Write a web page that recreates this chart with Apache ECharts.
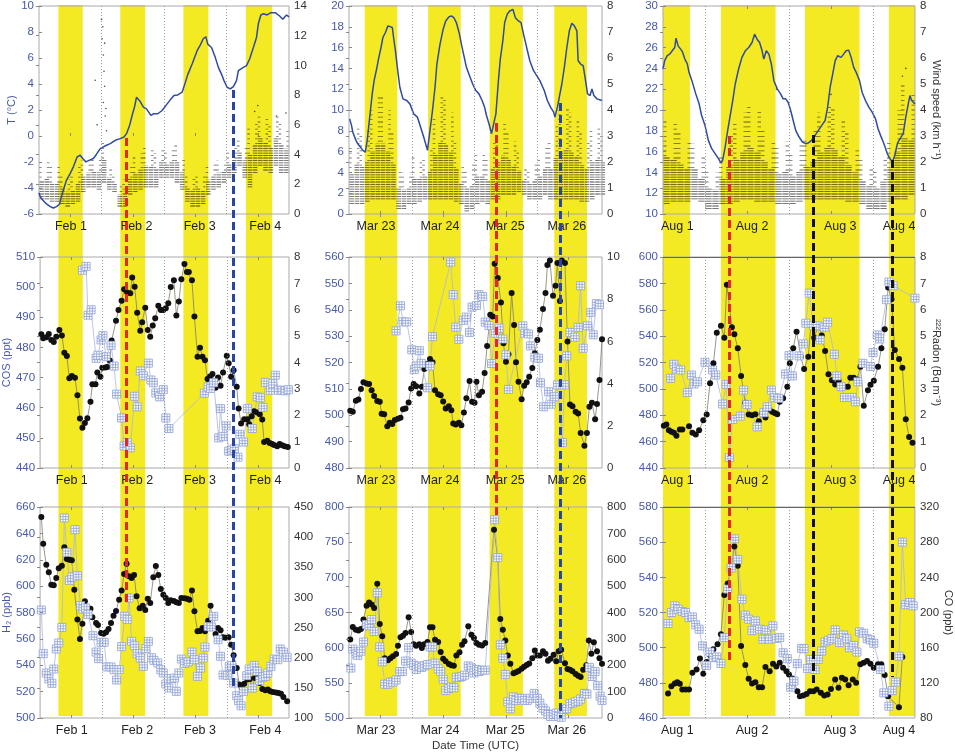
<!DOCTYPE html>
<html>
<head>
<meta charset="utf-8">
<script src="https://cdn.jsdelivr.net/npm/echarts@6/dist/echarts.min.js"></script>
<style>
html, body { margin: 0; padding: 0; background: #fff; }
#chart { width: 955px; height: 753px; }
</style>
</head>
<body>
<div id="chart"></div>
<script>
var chart = echarts.init(document.getElementById('chart'));

// time axis: days since the left edge of each column
var febLabels = ['Feb 1', 'Feb 2', 'Feb 3', 'Feb 4'];
var febLabelPos = [0.51, 1.56, 2.57, 3.62];
var marLabels = ['Mar 23', 'Mar 24', 'Mar 25', 'Mar 26'];
var marLabelPos = [0.43, 1.45, 2.49, 3.47];
var augLabels = ['Aug 1', 'Aug 2', 'Aug 3', 'Aug 4'];
var augLabelPos = [0.17, 1.06, 2.11, 2.81];

// tick marks (noon) and dotted lines (midnight)
var febTicks = [0.5, 1.5, 2.5, 3.5];
var marTicks = [0.5, 1.5, 2.5, 3.5];
var augTicks = [1, 2];
var febMidnights = [1, 2, 3];
var marMidnights = [1, 2, 3];
var augMidnights = [0.5, 1.5, 2.5];

// daylight periods
var febBands = [[0.31, 0.70], [1.30, 1.70], [2.31, 2.71], [3.31, 3.73]];
var marBands = [[0.25, 0.77], [1.26, 1.78], [2.24, 2.77], [3.27, 3.79]];
var augBands = [[0, 0.32], [0.69, 1.34], [1.69, 2.34], [2.69, 3.0]];

// events: [time, top px, bottom px]
var febEvents = [[1.39, 138, 605], [3.11, 90, 688]];
var marEvents = [[2.34, 123, 517], [3.37, 103, 718]];
var augEvents = [[0.79, 136, 663], [1.79, 135, 684], [2.73, 160, 677]];

// temperature (degC)
var tempFeb = [[0,-4.36],[0.02,-4.67],[0.06,-4.92],[0.12,-5.23],[0.18,-5.43],[0.23,-5.54],[0.28,-5.43],[0.33,-5.23],[0.35,-4.8],[0.39,-4.16],[0.44,-3.39],[0.5,-2.88],[0.55,-2.37],[0.61,-1.61],[0.66,-1.48],[0.7,-1.73],[0.75,-1.99],[0.81,-1.86],[0.87,-1.73],[0.92,-1.4],[0.98,-0.97],[1.03,-0.84],[1.08,-0.71],[1.14,-0.59],[1.22,-0.33],[1.3,-0.2],[1.36,-0.08],[1.4,0.18],[1.45,0.82],[1.49,1.58],[1.53,2.27],[1.56,2.98],[1.59,3.11],[1.62,2.65],[1.67,2.22],[1.72,2.09],[1.79,1.58],[1.83,1.71],[1.9,1.71],[1.97,1.96],[2.05,2.47],[2.1,2.78],[2.16,3.11],[2.22,3.16],[2.29,3.37],[2.32,3.8],[2.38,4.72],[2.45,5.54],[2.53,6.56],[2.58,6.99],[2.63,7.5],[2.67,7.63],[2.7,7.07],[2.76,6.81],[2.82,6.05],[2.87,5.28],[2.93,4.64],[2.96,4.26],[3.01,3.75],[3.06,3.62],[3.11,3.8],[3.16,4.26],[3.19,5.03],[3.27,5.28],[3.32,5.41],[3.37,5.92],[3.43,6.81],[3.48,7.58],[3.51,8.65],[3.55,9.31],[3.59,9.41],[3.65,9.31],[3.71,9.49],[3.78,9.49],[3.85,9.23],[3.9,8.98],[3.96,9.31],[4,9.16]];
var tempMar = [[0.01,9.15],[0.04,8.52],[0.06,7.88],[0.11,7.08],[0.14,6.76],[0.18,6.44],[0.22,6.12],[0.26,5.96],[0.29,7.08],[0.33,9.31],[0.37,11.55],[0.4,12.82],[0.44,13.94],[0.47,14.9],[0.51,16.01],[0.54,16.97],[0.58,17.45],[0.62,18.09],[0.65,18.25],[0.69,17.93],[0.71,16.97],[0.74,15.69],[0.77,14.1],[0.81,12.19],[0.86,11.07],[0.92,10.91],[0.97,10.59],[1.03,9.63],[1.09,9.31],[1.14,8.36],[1.19,7.4],[1.25,6.12],[1.29,8.04],[1.33,9.95],[1.37,12.19],[1.4,14.42],[1.45,16.33],[1.5,17.77],[1.54,18.56],[1.59,18.95],[1.63,19.04],[1.67,18.88],[1.71,18.41],[1.76,17.29],[1.79,16.33],[1.83,15.22],[1.87,14.1],[1.92,13.3],[1.97,12.5],[2.02,11.87],[2.07,11.55],[2.12,10.91],[2.16,10.27],[2.19,9.47],[2.23,8.68],[2.27,7.72],[2.3,7.88],[2.34,9.63],[2.38,12.82],[2.41,14.9],[2.45,16.65],[2.48,18.41],[2.52,19.2],[2.56,19.52],[2.61,19.68],[2.65,18.88],[2.7,18.56],[2.74,18.41],[2.78,17.29],[2.83,16.01],[2.88,14.74],[2.94,13.78],[2.99,13.3],[3.04,12.82],[3.11,11.87],[3.16,10.91],[3.21,10.27],[3.26,9.79],[3.28,9.31],[3.32,10.27],[3.35,11.23],[3.39,12.5],[3.43,14.1],[3.47,16.01],[3.51,17.61],[3.55,18.34],[3.59,18.09],[3.63,17.61],[3.65,14.74],[3.69,14.42],[3.73,14.26],[3.76,13.14],[3.8,11.55],[3.84,11.39],[3.87,12.03],[3.9,11.39],[3.95,11.07],[4.03,10.91]];
var tempAug = [[0,23.94],[0.02,24.74],[0.05,25.22],[0.08,25.37],[0.11,25.69],[0.14,26.01],[0.155,26.91],[0.18,26.17],[0.21,25.85],[0.23,25.63],[0.26,24.9],[0.29,24.42],[0.31,23.62],[0.35,22.66],[0.39,21.55],[0.43,20.59],[0.46,19.47],[0.5,18.52],[0.54,17.08],[0.58,16.28],[0.62,15.81],[0.66,15.33],[0.69,14.91],[0.71,15.17],[0.74,16.44],[0.77,18.04],[0.8,19.47],[0.83,20.91],[0.86,22.5],[0.9,23.94],[0.94,25.06],[0.98,25.69],[1.02,26.01],[1.06,26.49],[1.09,27.29],[1.12,26.81],[1.15,26.49],[1.18,25.69],[1.2,24.9],[1.23,25.69],[1.26,25.37],[1.29,24.42],[1.32,22.82],[1.36,22.03],[1.4,21.55],[1.43,21.07],[1.46,21.07],[1.49,20.75],[1.52,19.95],[1.55,18.99],[1.58,18.04],[1.62,17.4],[1.66,16.92],[1.7,16.76],[1.73,16.83],[1.77,17.08],[1.81,17.56],[1.85,18.04],[1.89,18.52],[1.93,18.99],[1.96,20.27],[1.99,22.19],[2.02,23.46],[2.05,24.74],[2.08,25.22],[2.12,25.06],[2.15,25.37],[2.18,25.69],[2.21,25.76],[2.24,25.06],[2.27,24.1],[2.3,23.62],[2.34,22.82],[2.37,21.71],[2.41,20.91],[2.45,20.27],[2.49,19.79],[2.53,19.15],[2.56,18.2],[2.59,17.56],[2.63,16.76],[2.67,15.81],[2.7,15.33],[2.73,15.01],[2.76,15.65],[2.79,16.76],[2.81,17.08],[2.83,17.24],[2.86,17.72],[2.89,19.31],[2.92,20.59],[2.94,21.39],[2.96,20.91],[3.0,20.59]];

// wind speed (km/h): spread of the 1-min values in 2-hour bins
var windLoFeb = [0.94,0.9,0.7,0.7,0.6,0.5,0.6,0.7,1.4,1.8,1.8,1.6,2.0,1.6,1.4,0.5,0.5,1.2,1.4,1.6,1.8,1.8,1.8,2.3,2.3,2.3,2.0,1.6,0.7,0.5,0.5,0.6,1.2,1.6,1.8,2.0,2.3,2.7,3.2,2.3,1.8,2.7,3.2,2.9,2.7,3.2,2.7,2.7];
var windHiFeb = [3.4,3.6,3.2,3.2,2.7,2.3,2.5,3.2,3.6,3.6,3.8,3.8,5.0,3.2,2.7,2.0,2.3,3.4,3.8,4.1,4.5,4.3,4.1,4.5,4.3,4.5,4.7,3.8,2.7,2.5,2.7,2.5,3.2,3.4,3.6,3.6,4.3,4.5,5.0,4.7,5.8,6.3,6.7,6.5,6.0,6.7,6.3,5.8];
var windOutFeb = [[0.9,9.0],[0.93,6.0],[1.0,13.1],[1.01,11.8],[1.02,12.6],[1.03,10.7],[1.03,7.5],[1.04,9.6],[1.05,8.6],[1.05,11.5],[1.06,6.6],[1.07,7.1],[1.08,5.6],[3.45,6.9],[3.5,7.3],[3.8,6.6],[3.95,6.8]];
var windLoMar = [0.3,0.3,0.3,0.4,0.5,0.5,0.5,0.5,0.5,0.15,0.15,0.3,0.3,0.4,0.5,0.5,0.5,0.5,0.5,0.5,0.4,0.3,0.1,0.15,0.3,0.4,0.3,0.5,0.5,0.7,0.7,0.7,0.8,0.7,0.5,0.5,0.5,0.7,0.5,0.5,0.5,0.5,0.5,0.5,0.4,0.4,0.5,0.7,0.7];
var windHiMar = [2.6,3.3,3.1,3.3,4.0,4.5,4.5,4.0,3.1,1.7,1.6,1.6,2.2,2.1,2.2,2.6,3.7,4.6,4.4,3.9,2.8,1.9,1.7,1.9,2.4,2.3,2.1,2.8,3.3,3.5,3.2,2.8,2.4,1.8,1.7,1.9,2.2,2.6,2.8,3.5,4.0,4.1,3.9,3.6,3.1,2.8,3.3,3.3,3.1];
var windOutMar = [];
var windLoAug = [0.3,0.4,0.4,0.4,0.5,0.4,0.2,0.15,0.3,0.35,0.4,0.5,0.5,0.4,0.4,0.4,0.3,0.3,0.3,0.4,0.5,0.5,0.5,0.5,0.5,0.5,0.4,0.4,0.3,0.2,0.15,0.2,0.4,0.5,0.5,0.7];
var windHiAug = [3.7,3.5,3.2,2.8,2.7,2.2,1.7,1.6,2.3,3.0,3.5,3.9,4.2,4.0,3.3,2.8,2.6,2.8,2.4,2.7,2.9,3.3,3.9,4.2,4.1,3.6,3.1,2.6,2.1,1.8,1.7,2.1,2.8,4.0,5.0,4.6];
var windOutAug = [[1.35,4.8],[2.0,4.6],[2.85,5.3],[2.89,5.6]];

// COS (ppt)
var cosFeb = [[0.68,505.6],[0.74,506.9],[0.77,490.7],[0.82,492.5],[0.9,476.4],[0.93,477.4],[0.98,482.5],[1.01,483.9],[1.06,476.9],[1.14,480.7],[1.19,473.8],[1.23,464.5],[1.31,456.6],[1.35,447.3],[1.4,448.4],[1.45,446.7],[1.52,463.8],[1.56,460.3],[1.61,472.2],[1.66,470.6],[1.74,474.8],[1.78,469.2],[1.82,468.3],[1.86,464.9],[1.92,463.6],[1.98,466.0],[2.02,456.6],[2.07,453.1],[2.64,464.8],[2.7,466.9],[2.74,466.4],[2.79,468.3],[2.87,450.0],[2.9,459.7],[2.94,450.5],[2.99,454.0],[3.03,445.6],[3.08,445.9],[3.12,446.4],[3.18,443.6],[3.21,451.2],[3.27,448.6],[3.33,459.7],[3.41,453.1],[3.49,463.6],[3.54,463.3],[3.58,460.1],[3.62,468.4],[3.7,465.8],[3.74,468.0],[3.78,470.8],[3.83,465.8],[3.89,465.8],[3.94,465.6],[3.99,466.0]];
var cosMar = [[0.75,532.0],[0.82,541.5],[0.86,535.4],[0.92,535.4],[1.0,524.8],[1.04,517.3],[1.07,518.7],[1.12,524.5],[1.15,519.7],[1.25,510.4],[1.29,518.7],[1.33,529.8],[1.62,558.1],[1.66,545.7],[1.7,533.4],[1.75,528.8],[1.82,536.0],[1.87,537.2],[1.92,531.4],[1.96,541.0],[2.03,541.6],[2.07,545.7],[2.13,545.0],[2.17,535.3],[2.23,534.0],[2.27,519.6],[2.33,531.1],[2.39,533.0],[2.45,528.9],[2.5,522.9],[2.54,509.8],[2.77,533.9],[2.8,531.1],[2.86,530.8],[2.89,526.3],[2.96,522.0],[3.02,521.6],[3.05,512.3],[3.1,503.2],[3.18,508.9],[3.22,504.2],[3.27,507.0],[3.32,511.5],[3.4,489.7],[3.43,511.5],[3.47,522.5],[3.52,531.4],[3.6,529.6],[3.65,533.3],[3.69,549.1],[3.73,525.4],[3.8,533.9],[3.85,539.0],[3.89,530.5],[3.94,542.3],[3.99,541.9]];
var cosAug = [[0.09,508.0],[0.13,518.6],[0.16,515.1],[0.21,514.3],[0.29,497.3],[0.34,510.5],[0.37,503.7],[0.41,505.4],[0.5,520.2],[0.59,514.3],[0.63,510.5],[0.71,488.5],[0.75,503.4],[0.79,447.9],[0.83,476.8],[0.92,479.3],[0.96,499.1],[1.0,488.2],[1.12,471.2],[1.2,481.9],[1.24,486.4],[1.29,499.1],[1.33,493.3],[1.38,492.8],[1.46,511.3],[1.5,525.2],[1.54,509.8],[1.62,525.0],[1.67,534.1],[1.7,549.8],[1.74,572.6],[1.79,547.8],[1.84,547.8],[1.87,537.1],[1.92,546.8],[1.96,550.6],[2.04,526.2],[2.07,509.8],[2.12,501.6],[2.16,493.5],[2.25,493.5],[2.29,490.2],[2.32,505.4],[2.38,519.4],[2.47,516.9],[2.5,527.5],[2.55,540.9],[2.58,537.9],[2.66,567.6],[2.69,581.0],[2.74,578.2],[3.0,568.8]];

// 222Rn (Bq m-3)
var radonFeb = [[0.02,5.07],[0.05,4.92],[0.1,4.96],[0.14,5.08],[0.18,4.85],[0.22,4.78],[0.26,4.98],[0.31,5.23],[0.35,5.02],[0.39,4.37],[0.43,4.25],[0.47,3.4],[0.51,3.49],[0.56,3.42],[0.6,2.76],[0.64,1.88],[0.68,1.53],[0.72,1.71],[0.76,1.89],[0.81,2.51],[0.84,3.18],[0.89,3.18],[0.92,3.62],[0.97,3.46],[1.0,3.8],[1.05,3.81],[1.08,3.83],[1.12,4.08],[1.15,4.83],[1.22,5.58],[1.26,5.99],[1.31,6.34],[1.35,6.78],[1.4,6.65],[1.45,6.63],[1.48,7.22],[1.52,6.87],[1.56,5.89],[1.61,5.2],[1.64,5.53],[1.69,6.08],[1.73,5.23],[1.77,4.98],[1.81,5.4],[1.85,5.68],[1.9,6.15],[1.94,5.99],[1.98,5.99],[2.02,6.06],[2.06,6.25],[2.1,6.86],[2.15,7.12],[2.19,5.78],[2.23,6.31],[2.27,7.16],[2.32,7.73],[2.36,7.43],[2.39,7.43],[2.44,7.12],[2.48,5.74],[2.53,4.22],[2.57,4.56],[2.61,4.22],[2.65,4.09],[2.69,3.37],[2.73,3.47],[2.77,3.56],[2.82,3.04],[2.86,3.43],[2.9,3.12],[2.94,3.62],[3.0,4.26],[3.03,3.97],[3.07,3.46],[3.11,3.71],[3.16,3.08],[3.19,2.26],[3.23,1.69],[3.28,1.85],[3.33,1.85],[3.36,1.66],[3.4,1.96],[3.44,2.15],[3.49,2.1],[3.53,2.04],[3.57,1.84],[3.6,0.99],[3.65,1.03],[3.69,0.95],[3.73,0.91],[3.76,0.87],[3.81,0.82],[3.85,0.91],[3.89,0.86],[3.93,0.82],[3.98,0.8]];
var radonMar = [[0.02,2.71],[0.06,2.66],[0.11,3.19],[0.15,3.25],[0.19,3.74],[0.23,4.06],[0.28,4.01],[0.32,3.98],[0.36,3.69],[0.4,3.41],[0.45,3.17],[0.49,3.14],[0.52,2.57],[0.56,2.55],[0.61,1.98],[0.65,2.14],[0.69,2.09],[0.73,2.27],[0.78,2.33],[0.82,2.38],[0.86,2.79],[0.9,2.82],[0.95,3.11],[0.99,3.77],[1.03,3.98],[1.07,3.88],[1.12,3.53],[1.16,3.85],[1.2,4.69],[1.25,4.94],[1.29,5.17],[1.33,5.01],[1.37,3.69],[1.42,3.5],[1.46,3.45],[1.5,3.15],[1.54,2.82],[1.59,2.93],[1.63,2.74],[1.66,2.11],[1.7,2.06],[1.75,2.14],[1.79,2.03],[1.83,2.63],[1.87,3.3],[1.92,4.12],[1.96,3.14],[2.0,3.09],[2.03,4.09],[2.07,3.45],[2.12,3.61],[2.16,4.5],[2.2,5.78],[2.25,7.26],[2.29,7.18],[2.32,9.68],[2.37,9.0],[2.42,7.84],[2.46,5.91],[2.5,5.04],[2.54,5.39],[2.59,8.29],[2.63,6.78],[2.66,5.01],[2.7,4.09],[2.75,3.26],[2.79,3.9],[2.83,4.06],[2.87,4.33],[2.92,4.74],[2.96,5.44],[3.0,6.07],[3.04,6.55],[3.09,7.54],[3.13,8.29],[3.16,9.62],[3.2,9.84],[3.25,8.16],[3.29,8.64],[3.32,9.71],[3.36,7.92],[3.39,9.84],[3.44,9.71],[3.48,5.99],[3.52,3.01],[3.56,2.93],[3.61,2.66],[3.65,2.58],[3.69,1.66],[3.75,1.06],[3.79,1.66],[3.83,2.9],[3.87,3.09],[3.92,2.31],[3.95,3.03],[3.99,4.17],[4.03,6.1]];
var radonAug = [[0.01,1.6],[0.04,1.65],[0.07,1.43],[0.1,1.37],[0.13,1.34],[0.16,1.22],[0.2,1.46],[0.23,1.46],[0.31,1.58],[0.35,1.34],[0.39,1.27],[0.43,1.43],[0.48,1.81],[0.52,2.03],[0.56,3.21],[0.6,3.97],[0.64,5.13],[0.69,5.39],[0.73,4.94],[0.76,6.95],[0.82,5.34],[0.85,5.07],[0.89,4.54],[0.93,3.49],[0.98,2.47],[1.02,2.03],[1.06,2.0],[1.1,2.04],[1.14,1.77],[1.18,2.07],[1.22,1.91],[1.26,2.22],[1.3,2.13],[1.33,2.09],[1.36,2.04],[1.39,2.51],[1.43,2.64],[1.48,3.08],[1.51,3.97],[1.55,4.54],[1.59,5.17],[1.64,4.22],[1.68,3.75],[1.73,4.22],[1.76,5.42],[1.8,4.94],[1.85,5.42],[1.89,5.02],[1.93,4.44],[1.97,3.55],[2.01,3.33],[2.05,3.17],[2.09,3.32],[2.13,3.11],[2.16,3.08],[2.2,3.08],[2.23,3.42],[2.27,3.42],[2.31,3.36],[2.35,3.84],[2.39,2.36],[2.44,2.95],[2.47,3.16],[2.51,3.31],[2.56,3.84],[2.6,4.54],[2.64,5.26],[2.68,6.84],[2.72,6.4],[2.76,4.47],[2.81,4.13],[2.85,3.8],[2.89,1.85],[2.93,1.18],[2.97,0.96]];

// H2 (ppb)
var h2Feb = [[0.02,581.9],[0.05,548.8],[0.1,534.1],[0.14,529.6],[0.19,526.3],[0.22,537.1],[0.26,552.3],[0.3,556.9],[0.35,568.7],[0.39,651.7],[0.43,625.6],[0.47,604.4],[0.51,606.9],[0.56,642.8],[0.6,607.9],[0.65,585.2],[0.69,582.6],[0.73,583.4],[0.77,578.6],[0.85,562.4],[0.9,550.0],[0.94,545.0],[0.98,557.4],[1.03,557.4],[1.07,538.7],[1.14,538.7],[1.19,536.6],[1.23,528.8],[1.27,536.6],[1.31,554.1],[1.36,577.1],[1.4,574.8],[1.43,591.0],[1.47,558.1],[1.52,554.8],[1.56,548.8],[1.61,545.5],[1.66,539.2],[1.7,552.6],[1.74,558.1],[1.79,545.7],[1.83,543.7],[1.89,541.7],[1.94,536.6],[1.98,534.1],[2.02,525.8],[2.07,522.7],[2.11,529.8],[2.16,530.3],[2.19,520.2],[2.23,534.1],[2.27,544.7],[2.32,541.4],[2.38,542.5],[2.44,550.0],[2.48,544.2],[2.53,531.6],[2.58,537.9],[2.62,545.5],[2.65,553.8],[2.7,569.3],[2.75,569.0],[2.79,577.1],[2.86,559.4],[2.9,546.8],[2.94,532.6],[3.01,532.3],[3.04,539.2],[3.08,539.7],[3.11,526.5],[3.16,516.9],[3.19,513.1],[3.23,509.3],[3.27,520.2],[3.32,532.1],[3.36,537.1],[3.41,522.7],[3.44,539.9],[3.49,535.4],[3.53,528.3],[3.58,531.1],[3.62,531.6],[3.66,534.1],[3.71,539.2],[3.76,544.7],[3.82,544.2],[3.86,552.3],[3.91,550.0],[3.97,546.0]];
var h2Mar = [[0.03,571],[0.06,598],[0.11,591],[0.14,589],[0.19,595],[0.23,608],[0.28,633],[0.32,631],[0.36,640],[0.4,623],[0.45,678],[0.49,601],[0.53,580],[0.57,548],[0.62,548],[0.66,551],[0.7,551],[0.75,554],[0.81,566],[0.85,566],[0.9,581],[0.95,600],[0.99,578],[1.03,575],[1.07,569],[1.12,574],[1.16,572],[1.2,574],[1.25,576],[1.29,601],[1.33,601],[1.37,578],[1.42,570],[1.46,566],[1.5,555],[1.54,539],[1.59,542],[1.63,544],[1.67,543],[1.71,558],[1.76,558],[1.8,559],[1.84,561],[1.9,574],[1.95,571],[1.99,564],[2.03,569],[2.07,566],[2.12,568],[2.17,568],[2.32,782],[2.37,728],[2.41,604],[2.45,585],[2.49,562],[2.53,523],[2.57,513],[2.62,530],[2.66,525],[2.71,528],[2.76,528],[2.8,525],[2.84,525],[2.89,528],[2.95,535],[3.0,528],[3.04,521],[3.09,514],[3.13,510],[3.17,505],[3.21,502],[3.26,505],[3.3,507],[3.34,502],[3.38,501],[3.43,512],[3.47,513],[3.52,520],[3.56,521],[3.61,523],[3.65,524],[3.69,527],[3.75,535],[3.79,534],[3.83,572],[3.87,559],[3.92,566],[3.96,546],[4.0,531],[4.03,525]];
var h2Aug = [[0.06,513.7],[0.1,520.0],[0.14,523.8],[0.18,521.9],[0.23,520.6],[0.27,520.0],[0.31,517.1],[0.35,517.5],[0.39,513.0],[0.43,510.5],[0.47,501.0],[0.52,489.9],[0.56,497.5],[0.6,494.3],[0.64,494.7],[0.69,491.0],[0.73,505.7],[0.77,533.3],[0.81,545.3],[0.85,561.9],[0.89,550.1],[0.94,527.6],[0.98,518.5],[1.02,516.2],[1.06,509.7],[1.1,515.2],[1.15,510.5],[1.19,504.8],[1.23,510.1],[1.27,504.8],[1.31,512.4],[1.35,505.3],[1.39,505.7],[1.43,497.1],[1.48,493.7],[1.52,477.5],[1.56,481.0],[1.6,490.9],[1.65,499.6],[1.68,499.4],[1.72,488.2],[1.76,493.3],[1.81,487.6],[1.85,493.3],[1.89,498.1],[1.93,503.2],[1.97,504.2],[2.01,505.1],[2.05,510.1],[2.1,502.9],[2.15,507.2],[2.19,505.1],[2.22,500.0],[2.27,501.3],[2.31,497.5],[2.34,509.0],[2.39,508.2],[2.43,505.1],[2.47,504.4],[2.51,502.5],[2.59,487.6],[2.63,474.3],[2.69,466.7],[2.73,475.6],[2.77,480.4],[2.81,495.2],[2.85,560.0],[2.89,524.4],[2.94,525.7],[2.98,523.8]];

// CO (ppb)
var coFeb = [[0.02,433.4],[0.05,389.2],[0.1,354.4],[0.14,341.7],[0.18,321.2],[0.22,320.1],[0.26,332.3],[0.3,348.3],[0.35,352.7],[0.39,383.1],[0.43,363.8],[0.47,362.7],[0.51,361.6],[0.55,312.9],[0.6,263.2],[0.64,231.1],[0.68,256.5],[0.72,293.6],[0.76,281.9],[0.81,281.4],[0.84,267.0],[0.9,257.6],[0.93,254.3],[0.98,241.0],[1.02,239.9],[1.06,242.2],[1.1,247.7],[1.14,257.6],[1.18,269.8],[1.22,277.5],[1.27,296.3],[1.31,311.3],[1.35,338.9],[1.39,356.0],[1.43,335.0],[1.47,332.3],[1.51,337.2],[1.55,301.9],[1.6,282.0],[1.65,286.4],[1.69,279.2],[1.73,298.0],[1.77,290.8],[1.82,333.4],[1.86,352.2],[1.9,337.2],[1.94,314.0],[1.98,304.6],[2.02,299.1],[2.06,290.8],[2.1,295.2],[2.15,294.1],[2.19,291.9],[2.23,290.8],[2.27,299.1],[2.32,298.5],[2.36,298.0],[2.4,296.3],[2.44,311.3],[2.48,276.9],[2.53,243.8],[2.57,244.4],[2.61,249.3],[2.65,243.8],[2.7,261.5],[2.74,286.4],[2.78,249.3],[2.82,239.4],[2.86,249.3],[2.9,245.5],[2.94,233.9],[2.98,233.3],[3.03,233.9],[3.07,221.7],[3.11,204.0],[3.16,183.0],[3.2,155.4],[3.24,149.8],[3.28,157.0],[3.33,163.7],[3.37,164.8],[3.41,148.2],[3.45,166.4],[3.49,169.2],[3.53,158.1],[3.57,148.2],[3.62,146.0],[3.66,147.1],[3.7,144.3],[3.74,143.2],[3.79,142.1],[3.83,141.6],[3.87,140.4],[3.91,134.9],[3.97,127.7]];
var coMar = [[0.02,298],[0.06,345],[0.11,335],[0.15,332],[0.19,337],[0.23,373],[0.28,426],[0.32,438],[0.36,430],[0.4,417],[0.45,509],[0.49,356],[0.53,310],[0.57,227],[0.62,219],[0.66,227],[0.7,234],[0.75,243],[0.78,274],[0.82,306],[0.86,312],[0.9,322],[0.95,382],[0.99,326],[1.03,280],[1.07,274],[1.12,280],[1.16,265],[1.2,280],[1.25,288],[1.29,344],[1.33,344],[1.37,297],[1.42,288],[1.46,250],[1.5,225],[1.54,215],[1.59,205],[1.63,200],[1.67,198],[1.71,237],[1.76,249],[1.8,278],[1.84,291],[1.9,348],[1.95,316],[1.99,303],[2.03,284],[2.07,278],[2.12,275],[2.17,284],[2.31,714],[2.37,604],[2.41,375],[2.45,335],[2.49,294],[2.53,237],[2.57,206],[2.62,170],[2.66,173],[2.7,178],[2.75,187],[2.79,194],[2.83,201],[2.87,207],[2.92,227],[2.96,256],[3.0,237],[3.04,237],[3.09,253],[3.13,244],[3.17,217],[3.21,225],[3.26,240],[3.3,215],[3.34,253],[3.38,259],[3.44,208],[3.48,186],[3.52,183],[3.56,177],[3.61,167],[3.65,160],[3.69,155],[3.73,183],[3.78,200],[3.82,294],[3.86,244],[3.9,287],[3.95,253],[3.99,227],[4.03,206]];
var coAug = [[0.06,107.8],[0.1,116.2],[0.14,119.2],[0.17,120.8],[0.2,118.9],[0.23,112.4],[0.27,112.4],[0.31,112.4],[0.35,131.4],[0.4,135.2],[0.44,147.8],[0.48,130.3],[0.52,143.6],[0.56,151.6],[0.6,158.1],[0.65,163.8],[0.69,175.2],[0.73,219.8],[0.77,233.1],[0.81,250.3],[0.85,275.0],[0.89,253.3],[0.93,161.9],[0.98,140.2],[1.02,124.6],[1.06,119.2],[1.1,120.8],[1.14,115.0],[1.18,115.0],[1.22,137.9],[1.27,133.3],[1.31,141.7],[1.35,138.7],[1.39,142.9],[1.43,137.1],[1.47,133.3],[1.5,129.5],[1.54,125.0],[1.56,120.8],[1.6,110.5],[1.63,104.8],[1.67,105.5],[1.71,107.4],[1.75,110.5],[1.79,110.5],[1.83,112.4],[1.88,108.6],[1.92,105.5],[1.96,106.7],[2.0,113.1],[2.05,123.8],[2.09,114.3],[2.13,125.7],[2.17,123.8],[2.21,117.3],[2.26,123.8],[2.3,120.0],[2.35,141.0],[2.39,142.9],[2.43,144.8],[2.47,141.7],[2.51,137.1],[2.56,141.0],[2.6,141.0],[2.64,128.8],[2.68,104.8],[2.81,92.2],[2.85,149.3]];

// axis scales [min, max, interval], row by column
var leftScale = [
  [[-6, 10, 2], [0, 20, 2], [10, 30, 2]],
  [[440, 510, 10], [480, 560, 10], [440, 600, 20]],
  [[500, 660, 20], [500, 800, 50], [460, 580, 20]]
];
var rightScale = [
  [[0, 14, 2], [0, 8, 1], [0, 8, 1]],
  [[0, 8, 1], [0, 10, 2], [0, 8, 1]],
  [[100, 450, 50], [0, 800, 100], [80, 320, 40]]
];
var leftNames = ['T (°C)', 'COS (ppt)', 'H₂ (ppb)'];
var rightNames = ['Wind speed (km h⁻¹)', '²²²Radon (Bq m⁻³)', 'CO (ppb)'];

// layout
var colLeft = [39, 349, 663], colWidth = [250, 253, 252];
var rowTop = [5, 257, 507], rowHeight = [209, 211, 211];
var xMax = [4, 4.03, 3];
var bandTop = 5, bandBottom = 716;
var BLUE = '#4759a9', YELLOW = '#f4ea24';
var SQUARE = 'path://M0,0L10,0L10,10L0,10Z M3.33,0L3.33,10 M6.67,0L6.67,10 M0,3.33L10,3.33 M0,6.67L10,6.67';
var TICK = {show: true, inside: true, length: 3, lineStyle: {color: '#888', width: 1}};

var cols = [
  {temp: tempFeb, lo: windLoFeb, hi: windHiFeb, out: windOutFeb, cos: cosFeb, rn: radonFeb, h2: h2Feb, co: coFeb,
   bands: febBands, mids: febMidnights, ticks: febTicks, labPos: febLabelPos, labs: febLabels,
   events: febEvents, evColors: ['#e2262a', '#2b45a2']},
  {temp: tempMar, lo: windLoMar, hi: windHiMar, out: windOutMar, cos: cosMar, rn: radonMar, h2: h2Mar, co: coMar,
   bands: marBands, mids: marMidnights, ticks: marTicks, labPos: marLabelPos, labs: marLabels,
   events: marEvents, evColors: ['#e2262a', '#2b45a2']},
  {temp: tempAug, lo: windLoAug, hi: windHiAug, out: windOutAug, cos: cosAug, rn: radonAug, h2: h2Aug, co: coAug,
   bands: augBands, mids: augMidnights, ticks: augTicks, labPos: augLabelPos, labs: augLabels,
   events: augEvents, evColors: ['#e2262a', '#111', '#111']}
];

function labelFormatter(pos, labs) {
  return function (v) {
    for (var i = 0; i < pos.length; i++) {
      if (Math.abs(pos[i] - v) < 1e-6) return labs[i];
    }
    return '';
  };
}

// one bin of wind readings drawn as rows of small dots:
// dense in the lower part of the spread, sparse in the upper part
function windItem(params, api) {
  var t = api.value(0), lo = api.value(1), hi = api.value(2);
  var a = api.coord([t, lo]);
  var m = api.coord([t, lo + 0.55 * (hi - lo)]);
  var b = api.coord([t, hi]);
  var w = api.size([1 / 12, 0])[0];
  var p = 2.4;
  var y0 = Math.floor(a[1] / p) * p;
  var ym = Math.floor(m[1] / p) * p;
  var shift = (params.dataIndex % 2) ? w / 4 : -w / 4;
  return {
    type: 'group',
    children: [
      {type: 'line', shape: {x1: a[0], y1: y0, x2: a[0], y2: m[1]},
       style: {stroke: '#000', lineWidth: w - 0.6, lineDash: [0.8, p - 0.8], opacity: 0.7}},
      {type: 'line', shape: {x1: a[0] + shift, y1: ym, x2: a[0] + shift, y2: b[1]},
       style: {stroke: '#000', lineWidth: w / 2, lineDash: [0.8, 2 * p - 0.8], opacity: 0.6}}
    ]
  };
}

var grids = [], xAxes = [], yAxes = [], series = [], topAxes = [];

for (var r = 0; r < 3; r++) {
  for (var c = 0; c < 3; c++) {
    var g = r * 3 + c, col = cols[c];
    grids.push({left: colLeft[c], width: colWidth[c], top: rowTop[r], height: rowHeight[r],
      show: true, borderColor: '#aaa', borderWidth: 1, backgroundColor: 'transparent', z: 3});
    xAxes.push({
      gridIndex: g, type: 'value', min: 0, max: xMax[c], z: 4,
      axisLine: {show: false}, splitLine: {show: false},
      axisTick: echarts.util.merge({customValues: col.ticks}, TICK),
      axisLabel: {customValues: col.labPos, formatter: labelFormatter(col.labPos, col.labs),
        color: '#222', fontSize: 12.5, margin: 6},
      name: (r === 2 && c === 1) ? 'Date Time (UTC)' : '',
      nameLocation: 'middle', nameGap: 22,
      nameTextStyle: {color: '#333', fontSize: 11.5}
    });
    topAxes.push({
      gridIndex: g, type: 'value', position: 'top', min: 0, max: xMax[c], z: 4,
      axisLine: {show: false}, splitLine: {show: false}, axisLabel: {show: false},
      axisTick: echarts.util.merge({customValues: col.ticks}, TICK)
    });
    var L = leftScale[r][c], R = rightScale[r][c];
    yAxes.push({
      gridIndex: g, type: 'value', position: 'left', min: L[0], max: L[1], interval: L[2], z: 4,
      axisLine: {show: false}, axisTick: TICK, splitLine: {show: false},
      axisLabel: {color: BLUE, fontSize: 11.5, margin: 5},
      name: c === 0 ? leftNames[r] : '', nameLocation: 'middle', nameGap: r === 0 ? 20 : 27,
      nameTextStyle: {color: BLUE, fontSize: 11}
    });
    yAxes.push({
      gridIndex: g, type: 'value', position: 'right', min: R[0], max: R[1], interval: R[2], z: 4,
      axisLine: {show: false}, axisTick: TICK, splitLine: {show: false},
      axisLabel: {color: '#333', fontSize: 11.5, margin: 5},
      name: c === 2 ? rightNames[r] : '', nameLocation: 'middle', nameRotate: -90,
      nameGap: [13, 14, 27][r],
      nameTextStyle: {color: '#333', fontSize: 11}
    });

    var lines = col.mids.map(function (m) { return {xAxis: m}; });
    if (c === 2 && r > 0) {
      lines.push({yAxis: R[1], lineStyle: {type: 'solid', color: '#666', width: 1}});
    }
    var dotted = {
      silent: true, symbol: ['none', 'none'], label: {show: false},
      lineStyle: {color: '#888', type: [1, 2], width: 0.8},
      data: lines
    };

    if (r === 0) {
      series.push({
        type: 'custom', xAxisIndex: g, yAxisIndex: 2 * g + 1, renderItem: windItem,
        dimensions: ['t', 'lo', 'hi'], encode: {x: 0, y: [1, 2]},
        data: col.lo.map(function (v, i) { return [(i + 0.5) / 12, v, this[i]]; }, col.hi),
        markLine: dotted, silent: true
      });
      series.push({
        type: 'scatter', xAxisIndex: g, yAxisIndex: 2 * g + 1, data: col.out,
        symbolSize: 1.6, itemStyle: {color: '#222'}, silent: true
      });
      series.push({
        type: 'line', xAxisIndex: g, yAxisIndex: 2 * g, data: col.temp,
        showSymbol: false, lineStyle: {color: '#2f4aa0', width: 1.5}, silent: true
      });
    } else {
      var black = r === 1 ? col.rn : col.co;
      var blue = r === 1 ? col.cos : col.h2;
      series.push({
        type: 'line', xAxisIndex: g, yAxisIndex: 2 * g + 1, data: black,
        symbol: 'circle', symbolSize: 6, showAllSymbol: true,
        itemStyle: {color: '#111'}, lineStyle: {color: '#7d7d6a', width: 0.8},
        markLine: dotted, silent: true
      });
      series.push({
        type: 'line', xAxisIndex: g, yAxisIndex: 2 * g, data: blue,
        symbol: SQUARE, symbolSize: 8, showAllSymbol: true,
        itemStyle: {color: '#fff', borderColor: '#8b9ed6', borderWidth: 0.8},
        lineStyle: {color: '#a9b6e2', width: 0.8}, silent: true
      });
    }
  }
}

// full-height background per column: daylight bands and event markers
for (var c2 = 0; c2 < 3; c2++) {
  var cc = cols[c2], bi = 9 + c2;
  grids.push({left: colLeft[c2], width: colWidth[c2], top: 0, height: 753, show: false});
  xAxes.push({gridIndex: bi, type: 'value', min: 0, max: xMax[c2], show: false});
  yAxes.push({gridIndex: bi, type: 'value', min: 0, max: 753, inverse: true, show: false});
  series.push({
    type: 'line', xAxisIndex: bi, yAxisIndex: 18 + c2, data: [[0, -10]], showSymbol: false,
    lineStyle: {opacity: 0}, z: 1, silent: true,
    markArea: {
      silent: true, itemStyle: {color: YELLOW},
      data: cc.bands.map(function (b) { return [{xAxis: b[0], yAxis: bandTop}, {xAxis: b[1], yAxis: bandBottom}]; })
    }
  });
  series.push({
    type: 'line', xAxisIndex: bi, yAxisIndex: 18 + c2, data: [[0, -10]], showSymbol: false,
    lineStyle: {opacity: 0}, z: 10, silent: true,
    markLine: {
      silent: true, symbol: ['none', 'none'], label: {show: false},
      data: cc.events.map(function (e, i) {
        var st = {color: cc.evColors[i], type: [8, 4], width: 3};
        return [{coord: [e[0], e[1]], lineStyle: st}, {coord: [e[0], e[2]], lineStyle: st}];
      })
    }
  });
}

var option = {
  animation: false,
  backgroundColor: '#fff',
  textStyle: {fontFamily: 'Liberation Sans, Arial, sans-serif'},
  grid: grids,
  xAxis: xAxes.concat(topAxes),
  yAxis: yAxes,
  series: series
};

option && chart.setOption(option);
</script>
</body>
</html>
